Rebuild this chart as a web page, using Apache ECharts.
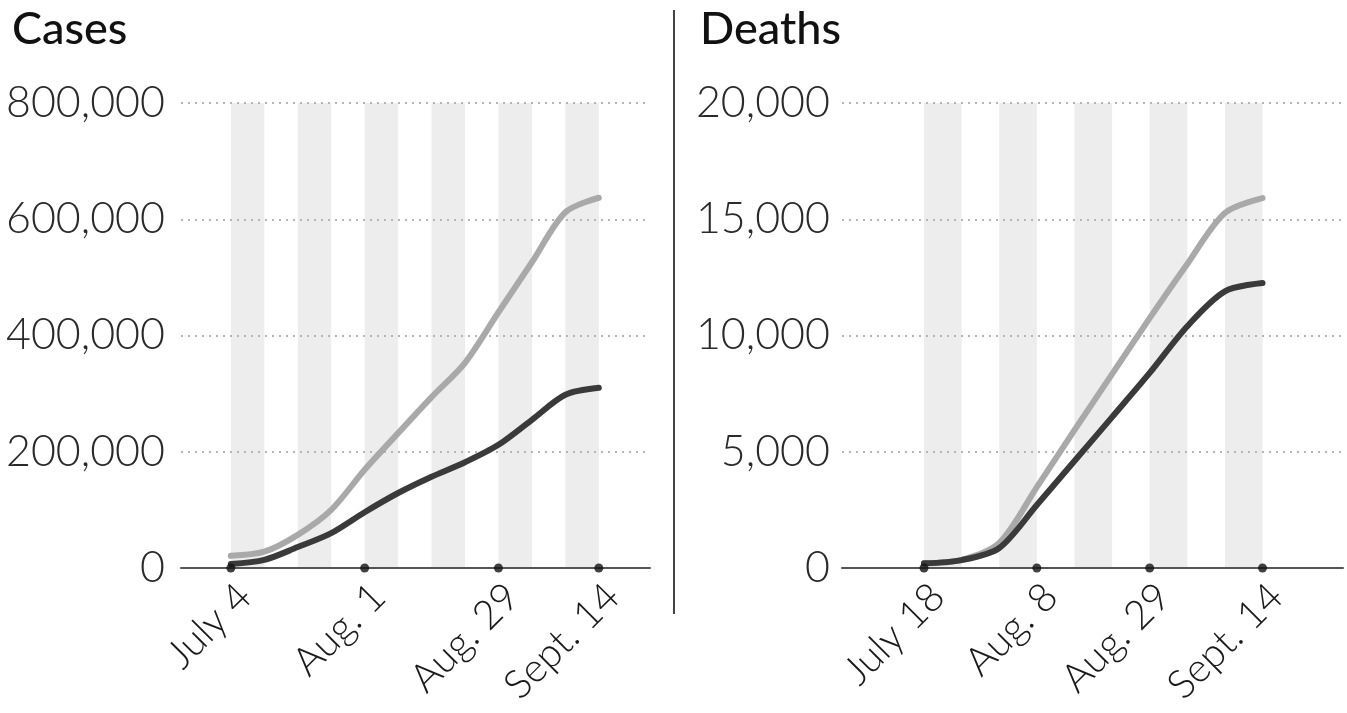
<!DOCTYPE html>
<html>
<head>
<meta charset="utf-8">
<script src="https://cdn.jsdelivr.net/npm/echarts@6/dist/echarts.min.js"></script>
<style>
html,body{margin:0;padding:0;background:#fff;}
#chart{width:1347px;height:713px;}
</style>
</head>
<body>
<div id="chart"></div>
<script>
// ---- Data ----
const casesTickLabels = ['July 4','','','','Aug. 1','','','','Aug. 29','','','Sept. 14'];
const casesLight = [21000, 28000, 57000, 100000, 169000, 232000, 294000, 353000, 440000, 526000, 612000, 637000];
const casesDark  = [7000, 14000, 36000, 60000, 96000, 129000, 157000, 182000, 212000, 255000, 298000, 310000];
const casesYTicks = [0, 200000, 400000, 600000, 800000];

const deathsTickLabels = ['July 18','','','Aug. 8','','','Aug. 29','','','Sept. 14'];
const deathsLight = [200, 350, 1075, 3480, 5930, 8340, 10750, 13080, 15270, 15910];
const deathsDark  = [200, 340, 860, 2710, 4600, 6490, 8390, 10400, 11900, 12260];
const deathsYTicks = [0, 5000, 10000, 15000, 20000];

// ---- Helpers ----
const FONT = 'Lato';
function idxPairs(arr){ return arr.map((v,i)=>[i,v]); }
function labelled(labels){ return labels.map((l,i)=>l ? i : null).filter(i=>i!==null); }
function bands(n){
  const out=[];
  for(let i=0;i+1<n;i+=2){ out.push([{xAxis:i},{xAxis:i+1}]); }
  return out;
}
function fmt(v){ return v.toLocaleString('en-US'); }

const chart = echarts.init(document.getElementById('chart'));

function xAxisCfg(gridIndex, labels, min, max){
  return {
    type:'value', gridIndex, min, max, z:4,
    axisLine:{show:true, onZero:false, lineStyle:{color:'#555', width:2}},
    axisTick:{show:false},
    splitLine:{show:false},
    axisLabel:{
      customValues: labelled(labels),
      formatter:(v)=>labels[Math.round(v)] || '',
      rotate:45, margin:8, verticalAlign:'top',
      fontFamily:FONT, fontWeight:300, fontSize:40, color:'#1a1a1a'
    }
  };
}
function yAxisCfg(gridIndex, ticks, margin){
  return {
    type:'value', gridIndex, min:ticks[0], max:ticks[ticks.length-1],
    interval: ticks[1]-ticks[0], z:3,
    axisLine:{show:false}, axisTick:{show:false},
    splitLine:{show:true, lineStyle:{color:'#b5b5b5', width:2, type:[2,5]}},
    axisLabel:{
      formatter:(v)=> v===0 ? '0' : fmt(v), margin,
      fontFamily:FONT, fontWeight:300, fontSize:43, color:'#2a2a2a'
    }
  };
}
function seriesFor(gi, light, dark, labels){
  return [
    {type:'line', xAxisIndex:gi, yAxisIndex:gi, data:[], silent:true, z:1,
     markArea:{silent:true, itemStyle:{color:'#ededed'}, data:bands(labels.length)}},
    {type:'line', xAxisIndex:gi, yAxisIndex:gi, data:idxPairs(light), showSymbol:false, smooth:0.3,
     z:5, lineStyle:{color:'#a9a9a9', width:6, cap:'round', join:'round'}},
    {type:'line', xAxisIndex:gi, yAxisIndex:gi, data:idxPairs(dark), showSymbol:false, smooth:0.3,
     z:6, lineStyle:{color:'#3a3a3a', width:6, cap:'round', join:'round'}},
    {type:'scatter', xAxisIndex:gi, yAxisIndex:gi, data:labelled(labels).map(i=>[i,0]),
     symbolSize:9, z:7, itemStyle:{color:'#111'}, silent:true}
  ];
}

chart.setOption({
  animation:false,
  backgroundColor:'#fff',
  title:[
    {text:'Cases', left:7, top:2, textStyle:{fontFamily:FONT, fontWeight:500, fontSize:45, color:'#111'}},
    {text:'Deaths', left:695, top:2, textStyle:{fontFamily:FONT, fontWeight:500, fontSize:45, color:'#111'}}
  ],
  grid:[
    {left:181, right:697, top:103, bottom:145, containLabel:false},
    {left:842, right:4, top:103, bottom:145, containLabel:false}
  ],
  xAxis:[
    xAxisCfg(0, casesTickLabels, -1.49, 12.53),
    xAxisCfg(1, deathsTickLabels, -2.18, 11.14)
  ],
  yAxis:[
    yAxisCfg(0, casesYTicks, 16),
    yAxisCfg(1, deathsYTicks, 12)
  ],
  series:[].concat(
    seriesFor(0, casesLight, casesDark, casesTickLabels),
    seriesFor(1, deathsLight, deathsDark, deathsTickLabels)
  ),
  graphic:[
    {type:'line', shape:{x1:674, y1:10, x2:674, y2:614}, style:{stroke:'#444', lineWidth:2}}
  ]
});
</script>
</body>
</html>
